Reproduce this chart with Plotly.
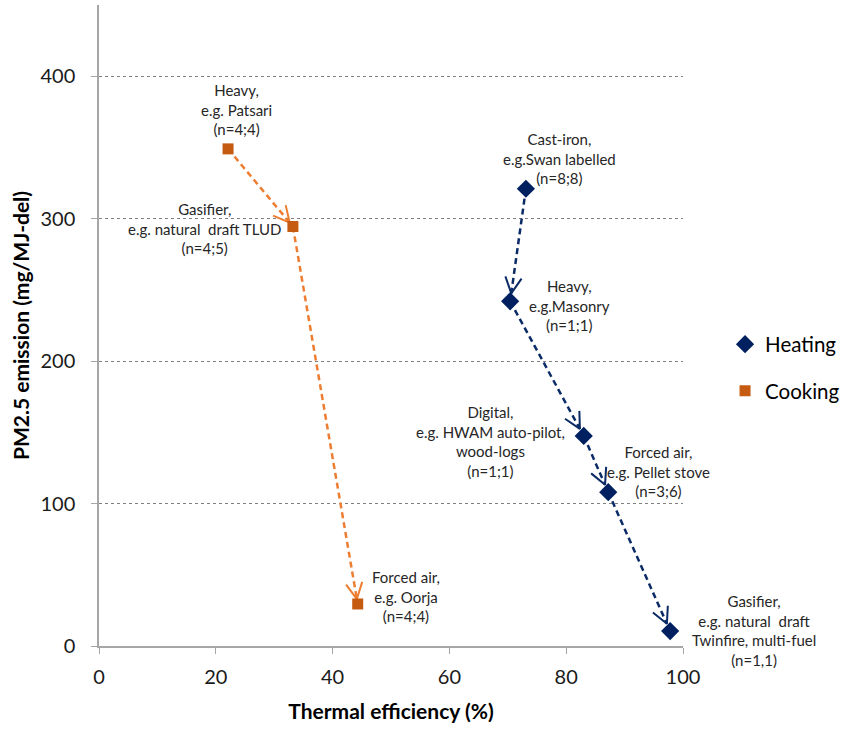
import math
import plotly.graph_objects as go

# ---------------- data ----------------
heat_x = [73.1, 70.4, 83.0, 87.2, 97.8]
heat_y = [321.0, 242.0, 147.5, 108.0, 10.5]
heat_labels = [
    "Cast-iron,<br>e.g.Swan labelled<br>(n=8;8)",
    "Heavy,<br>e.g.Masonry<br>(n=1;1)",
    "Digital,<br>e.g. HWAM auto-pilot,<br>wood-logs<br>(n=1;1)",
    "Forced air,<br>e.g. Pellet stove<br>(n=3;6)",
    "Gasifier,<br>e.g. natural  draft<br>Twinfire, multi-fuel<br>(n=1,1)",
]
cook_x = [22.1, 33.2, 44.3]
cook_y = [349.0, 294.5, 29.5]
cook_labels = [
    "Heavy,<br>e.g. Patsari<br>(n=4;4)",
    "Gasifier,<br>e.g. natural  draft TLUD<br>(n=4;5)",
    "Forced air,<br>e.g. Oorja<br>(n=4;4)",
]
x_ticks = [0, 20, 40, 60, 80, 100]
y_ticks = [0, 100, 200, 300, 400]
x_range = [0, 100]
y_range = [0, 450]

# ---------------- layout constants ----------------
W, H = 847, 729
ML, MR, MT, MB = 99, 164, 5, 83
PW, PH = W - ML - MR, H - MT - MB
SX = PW / (x_range[1] - x_range[0])
SY = PH / (y_range[1] - y_range[0])

HEAT_MARK = "#002060"
HEAT_LINE = "#0B2B66"
COOK_MARK = "#C55A11"
COOK_LINE = "#ED7D31"
FONT = "Lato, 'Open Sans', sans-serif"

heat_offsets = [(34, 30), (59, -4), (-93, -6), (50, 21), (84, 1)]
cook_offsets = [(8, 39), (-88, -2), (48, 7)]

fig = go.Figure()


def add_arrows(xs, ys, color, gap, head_len=18, head_ang=27):
    for i in range(len(xs) - 1):
        px0, py0 = xs[i] * SX, ys[i] * SY
        px1, py1 = xs[i + 1] * SX, ys[i + 1] * SY
        dx, dy = px1 - px0, py1 - py0
        L = math.hypot(dx, dy)
        ux, uy = dx / L, dy / L
        tx, ty = px1 - ux * gap, py1 - uy * gap
        fig.add_trace(go.Scatter(
            x=[xs[i], tx / SX], y=[ys[i], ty / SY], mode="lines",
            line=dict(color=color, width=2.5, dash="6px,4px"),
            showlegend=False, hoverinfo="skip"))
        wx, wy = [], []
        for sgn in (1, -1):
            a = math.radians(head_ang) * sgn
            bx, by = -ux, -uy
            rx = bx * math.cos(a) - by * math.sin(a)
            ry = bx * math.sin(a) + by * math.cos(a)
            wx.append((tx + rx * head_len) / SX)
            wy.append((ty + ry * head_len) / SY)
        fig.add_trace(go.Scatter(
            x=[wx[0], tx / SX, wx[1]], y=[wy[0], ty / SY, wy[1]], mode="lines",
            line=dict(color=color, width=2),
            showlegend=False, hoverinfo="skip"))


add_arrows(heat_x, heat_y, HEAT_LINE, 8)
add_arrows(cook_x, cook_y, COOK_LINE, 5)

fig.add_trace(go.Scatter(
    x=heat_x, y=heat_y, mode="markers", name="Heating", legendgroup="h",
    marker=dict(symbol="diamond", size=14, color=HEAT_MARK)))
fig.add_trace(go.Scatter(
    x=cook_x, y=cook_y, mode="markers", name="Cooking", legendgroup="c",
    marker=dict(symbol="square", size=11, color=COOK_MARK)))

for xs, ys, labels, offs in ((heat_x, heat_y, heat_labels, heat_offsets),
                             (cook_x, cook_y, cook_labels, cook_offsets)):
    for x, y, t, (xo, yo) in zip(xs, ys, labels, offs):
        fig.add_annotation(x=x, y=y, text=t, showarrow=False,
                           xshift=xo, yshift=yo, xanchor="center", yanchor="middle",
                           align="center",
                           font=dict(family=FONT, size=15, color="#262626"))

axis_common = dict(showline=True, linecolor="#A6A6A6", linewidth=1.5,
                   ticks="outside", tickcolor="#A6A6A6", ticklen=6, tickwidth=1,
                   zeroline=False,
                   tickfont=dict(family=FONT, size=20, color="#1a1a1a"))

fig.update_xaxes(range=x_range, tickvals=x_ticks, showgrid=False,
                 title=dict(text="<b>Thermal efficiency (%)</b>",
                            font=dict(family=FONT, size=21, color="#000"),
                            standoff=18),
                 ticklabelstandoff=6,
                 **axis_common)
fig.update_yaxes(range=y_range, tickvals=y_ticks, showgrid=True,
                 gridcolor="#808080", gridwidth=1, griddash="dot",
                 title=dict(text="<b>PM2.5 emission (mg/MJ-del)</b>",
                            font=dict(family=FONT, size=21, color="#000"),
                            standoff=5),
                 ticklabelstandoff=12,
                 **axis_common)

fig.update_layout(
    width=W, height=H,
    margin=dict(l=ML, r=MR, t=MT, b=MB, autoexpand=False),
    plot_bgcolor="white", paper_bgcolor="white",
    showlegend=True,
    legend=dict(x=1.072, y=0.434, xanchor="left", yanchor="middle",
                font=dict(family=FONT, size=20.5, color="#000"),
                tracegroupgap=17, bgcolor="rgba(0,0,0,0)"),
)

fig.write_html("out.html", config={"displayModeBar": False},
               post_script="document.body.style.margin='0px';document.body.style.padding='0px';")
